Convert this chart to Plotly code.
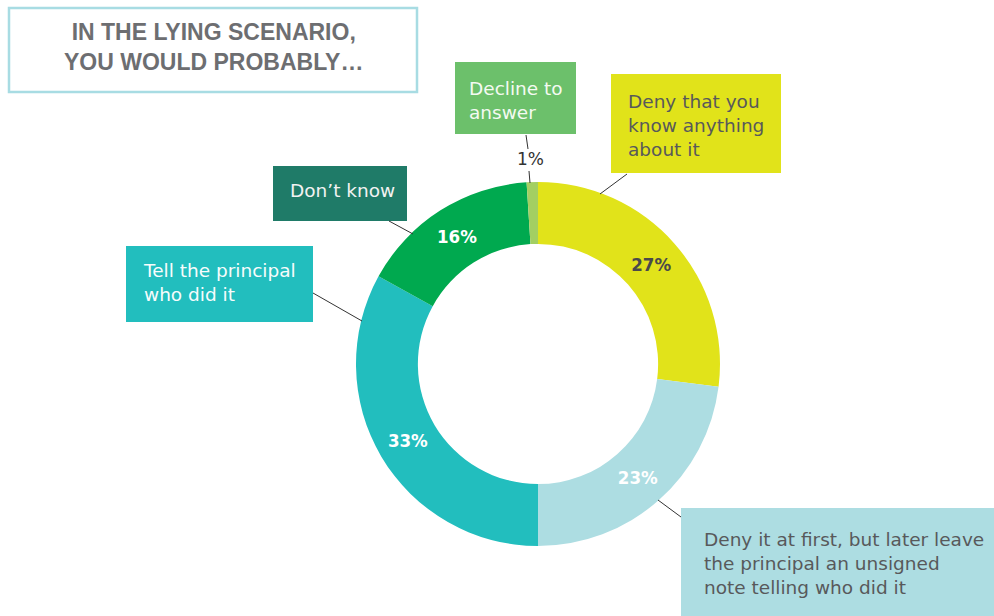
import plotly.graph_objects as go

W, H = 994, 616

# Survey answers, clockwise from 12 o'clock
labels = [
    "Deny that you know anything about it",
    "Deny it at first, but later leave the principal an unsigned note telling who did it",
    "Tell the principal who did it",
    "Don\u2019t know",
    "Decline to answer",
]
values = [27, 23, 33, 16, 1]
slice_colors = ["#E1E31A", "#ADDDE2", "#22BEBE", "#00A94F", "#A3CF62"]
pct_colors = ["#4A4A4A", "#FFFFFF", "#FFFFFF", "#FFFFFF", "#FFFFFF"]
text_pos = ["inside", "inside", "inside", "inside", "none"]

title_lines = ["IN THE LYING SCENARIO,", "YOU WOULD PROBABLY\u2026"]

PCT_FONT = "Liberation Sans Narrow, DejaVu Sans Condensed, Roboto Condensed, Roboto, sans-serif"
BOX_FONT = "DejaVu Sans, Open Sans, sans-serif"
BOX_SIZE = 18.5  # plotly steps lines by 1.3 x font size -> ~24 px


def px(x):
    return x / W


def py(y):
    return 1 - y / H


# Donut placement (pixels)
cx, cy, r = 538, 364, 182

fig = go.Figure(
    go.Pie(
        labels=labels,
        values=values,
        sort=False,
        direction="clockwise",
        rotation=0,
        hole=0.66,
        marker=dict(colors=slice_colors, line=dict(width=0)),
        texttemplate="<b>%{value}%</b>",
        textposition=text_pos,
        insidetextorientation="horizontal",
        insidetextfont=dict(family=PCT_FONT, size=18.5, color=pct_colors),
        hoverinfo="skip",
        showlegend=False,
        domain=dict(x=[px(cx - r), px(cx + r)], y=[py(cy + r), py(cy - r)]),
    )
)

shapes = []
annotations = []

# Title box
shapes.append(dict(type="rect", xref="paper", yref="paper",
                   x0=px(9), x1=px(417), y0=py(92), y1=py(8),
                   line=dict(color="#A8DCE3", width=2.5), fillcolor="white"))
annotations.append(dict(text="<br>".join("<b>%s</b>" % t for t in title_lines),
                        xref="paper", yref="paper",
                        x=px(213), y=py(46.5), xanchor="center", yanchor="middle",
                        showarrow=False, align="center",
                        font=dict(family="Liberation Sans", size=23, color="#6D6E71")))

# Category callout boxes: (lines, left, top, right, bottom, fill, text colour, text centre y, text x)
callouts = [
    (["Decline to", "answer"], 455, 62, 576, 134, "#6CC06B", "#F4FAF2", 100, 467),
    (["Deny that you", "know anything", "about it"], 611, 74, 781, 173, "#E1E31A", "#58595B", 125, 626),
    (["Don\u2019t know"], 273, 166, 407, 221, "#1F7B68", "#F2F2F2", 190, 288),
    (["Tell the principal", "who did it"], 126, 246, 313, 322, "#22BEBE", "#F7FCFC", 282.5, 141),
    (["Deny it at first, but later leave", "the principal an unsigned", "note telling who did it"],
     681, 508, 994, 616, "#ADDDE2", "#58595B", 563, 702),
]
for lines, x0, y0, x1, y1, fill, tcol, ty, tx in callouts:
    shapes.append(dict(type="rect", xref="paper", yref="paper",
                       x0=px(x0), x1=px(x1), y0=py(y1), y1=py(y0),
                       line=dict(width=0), fillcolor=fill, layer="below"))
    annotations.append(dict(text="<br>".join(lines), xref="paper", yref="paper",
                            x=px(tx), y=py(ty), xanchor="left", yanchor="middle",
                            align="left", showarrow=False,
                            font=dict(family=BOX_FONT, size=BOX_SIZE, color=tcol)))

# Leader lines from callouts to slices
leaders = [
    (526, 135, 528, 149),
    (529, 171, 530, 183),
    (627, 174, 600, 194),
    (389, 221, 413, 234),
    (313, 293, 362, 321),
    (658, 500, 681, 517),
]
for x0, y0, x1, y1 in leaders:
    shapes.append(dict(type="line", xref="paper", yref="paper",
                       x0=px(x0), y0=py(y0), x1=px(x1), y1=py(y1),
                       line=dict(color="#333333", width=1)))

# Outside value for the smallest slice
annotations.append(dict(text="%d%%" % values[4], xref="paper", yref="paper",
                        x=px(530), y=py(159), xanchor="center", yanchor="middle",
                        showarrow=False,
                        font=dict(family=BOX_FONT, size=17, color="#333333")))

fig.update_layout(
    width=W, height=H,
    margin=dict(l=0, r=0, t=0, b=0),
    paper_bgcolor="white", plot_bgcolor="white",
    shapes=shapes, annotations=annotations,
)

fig.write_html("out.html")
